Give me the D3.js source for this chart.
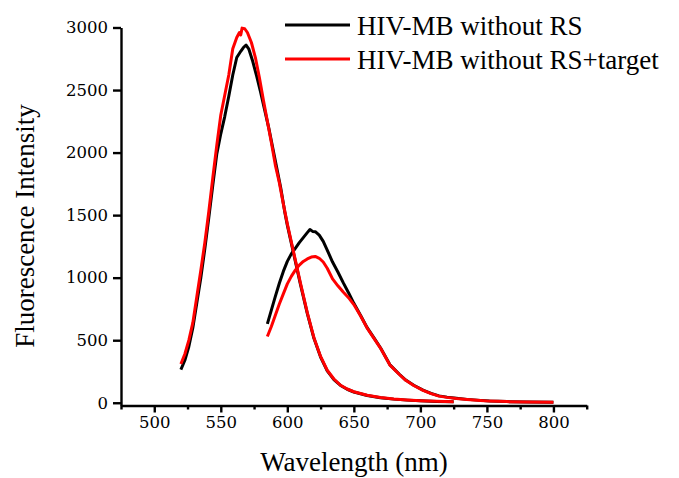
<!DOCTYPE html>
<html>
<head>
<meta charset="utf-8">
<script src="https://cdn.jsdelivr.net/npm/d3@7/dist/d3.min.js"></script>
<style>
  body { margin: 0; background: #fff; }
</style>
</head>
<body>
<div id="chart"></div>
<script>
// readings taken off the spectrum (wavelength in nm, fluorescence intensity)
var wlBlack1 = [520, 523, 526, 529, 532, 535, 538, 541, 544, 547, 550, 553, 556, 559, 562, 565, 567, 569, 571, 574, 577, 580, 583, 586, 589, 592, 595, 598, 600, 605, 610, 615, 620, 625, 630, 635, 640, 645, 650, 660, 670, 680, 690, 700, 712, 725];
var intBlack1 = [265, 340, 450, 600, 800, 1000, 1230, 1480, 1740, 1990, 2150, 2290, 2450, 2620, 2760, 2810, 2840, 2860, 2830, 2730, 2610, 2480, 2340, 2200, 2040, 1880, 1720, 1530, 1420, 1180, 940, 715, 515, 365, 255, 185, 138, 108, 86, 58, 40, 29, 21, 15, 10, 7];

var wlRed1 = [520, 523, 526, 529, 532, 535, 538, 541, 544, 547, 550, 553, 556, 559, 562, 564, 565, 566, 568, 570, 573, 576, 579, 582, 585, 588, 591, 594, 597, 600, 605, 610, 615, 620, 625, 630, 635, 640, 645, 650, 660, 670, 680, 690, 700, 712, 725];
var intRed1 = [310, 390, 500, 640, 850, 1060, 1280, 1530, 1800, 2060, 2300, 2460, 2620, 2830, 2920, 2960, 2940, 2995, 2990, 2960, 2880, 2760, 2600, 2420, 2250, 2080, 1900, 1760, 1590, 1430, 1190, 950, 720, 520, 370, 260, 190, 140, 110, 88, 60, 42, 30, 22, 16, 11, 8];

var wlBlack2 = [585, 588, 591, 594, 597, 600, 603, 606, 609, 612, 615, 617, 619, 621, 624, 627, 630, 634, 638, 642, 646, 650, 655, 660, 665, 670, 677, 684, 689, 695, 702, 708, 714, 720, 727, 735, 745, 752, 765, 780, 800];
var intBlack2 = [630, 740, 850, 955, 1050, 1130, 1190, 1235, 1280, 1320, 1360, 1385, 1370, 1368, 1340, 1290, 1220, 1125, 1045, 960, 880, 795, 700, 600, 520, 440, 305, 230, 181, 140, 101, 75, 55, 45, 36, 27, 19, 14, 9, 6, 3];

var wlRed2 = [585, 588, 591, 594, 597, 600, 603, 606, 609, 612, 615, 618, 621, 624, 627, 630, 634, 638, 642, 646, 650, 655, 660, 665, 670, 677, 684, 689, 695, 702, 708, 714, 720, 727, 735, 745, 752, 765, 780, 800];
var intRed2 = [530, 610, 700, 790, 870, 950, 1010, 1060, 1100, 1130, 1150, 1165, 1170, 1155, 1125, 1075, 990, 935, 885, 840, 785, 695, 597, 517, 437, 303, 228, 179, 138, 99, 73, 53, 43, 34, 26, 18, 13, 9, 6, 4];

var seriesNames = ["HIV-MB without RS", "HIV-MB without RS+target"];
var seriesColors = ["#000000", "#ff0000"];
var xTicks = [500, 550, 600, 650, 700, 750, 800];
var xMinorTicks = [475, 525, 575, 625, 675, 725, 775, 825];
var yTicks = [0, 500, 1000, 1500, 2000, 2500, 3000];

function zip(wl, val) {
  return wl.map(function (w, i) { return [w, val[i]]; });
}

var svg = d3.select("#chart")
  .append("svg")
  .attr("width", 679)
  .attr("height", 478);

var x = d3.scaleLinear().domain([475, 825]).range([121, 586.7]);
var y = d3.scaleLinear().domain([-22, 3000]).range([405.5, 27.5]);

var line = d3.line()
  .x(function (d) { return x(d[0]); })
  .y(function (d) { return y(d[1]); });

// curves: black first so red sits on top where they overlap
var segments = [
  { data: zip(wlBlack1, intBlack1), color: seriesColors[0] },
  { data: zip(wlBlack2, intBlack2), color: seriesColors[0] },
  { data: zip(wlRed1, intRed1), color: seriesColors[1] },
  { data: zip(wlRed2, intRed2), color: seriesColors[1] }
];

svg.selectAll(".curve")
  .data(segments)
  .enter()
  .append("path")
  .attr("class", "curve")
  .attr("d", function (d) { return line(d.data); })
  .attr("fill", "none")
  .attr("stroke", function (d) { return d.color; })
  .attr("stroke-width", 3)
  .attr("stroke-linejoin", "round");

// x axis, major + minor ticks
svg.append("g")
  .attr("class", "axis")
  .attr("transform", "translate(0,405.5)")
  .call(d3.axisBottom(x).tickValues(xTicks).tickSize(7).tickSizeOuter(0).tickPadding(4).tickFormat(d3.format("d")));
svg.append("g")
  .attr("class", "axis minor")
  .attr("transform", "translate(0,405.5)")
  .call(d3.axisBottom(x).tickValues(xMinorTicks).tickSize(4).tickSizeOuter(0).tickFormat(""))
  .select(".domain").remove();

// y axis
svg.append("g")
  .attr("class", "axis")
  .attr("transform", "translate(121,0)")
  .call(d3.axisLeft(y).tickValues(yTicks).tickSize(8).tickSizeOuter(0).tickPadding(5).tickFormat(d3.format("d")));

svg.selectAll(".axis .domain, .axis .tick line")
  .attr("stroke", "#000")
  .attr("stroke-width", 2.4);
svg.selectAll(".axis .tick text")
  .style("font-family", "'DejaVu Serif', serif")
  .style("font-size", "16.5px")
  .style("fill", "#000");

// axis titles
svg.append("text")
  .attr("x", 354)
  .attr("y", 471)
  .attr("text-anchor", "middle")
  .style("font-family", "'Liberation Serif', serif")
  .style("font-size", "27px")
  .text("Wavelength (nm)");

svg.append("text")
  .attr("transform", "translate(34,226) rotate(-90)")
  .attr("text-anchor", "middle")
  .style("font-family", "'Liberation Serif', serif")
  .style("font-size", "27px")
  .text("Fluorescence Intensity");

// legend
var legend = svg.selectAll(".legend")
  .data(seriesNames)
  .enter()
  .append("g")
  .attr("class", "legend")
  .attr("transform", function (d, i) { return "translate(285," + (25 + i * 34) + ")"; });

legend.append("line")
  .attr("x1", 0)
  .attr("x2", 65)
  .attr("stroke", function (d, i) { return seriesColors[i]; })
  .attr("stroke-width", 3);

legend.append("text")
  .attr("x", 72)
  .attr("y", 10)
  .style("font-family", "'Liberation Serif', serif")
  .style("font-size", "27px")
  .text(function (d) { return d; });
</script>
</body>
</html>
